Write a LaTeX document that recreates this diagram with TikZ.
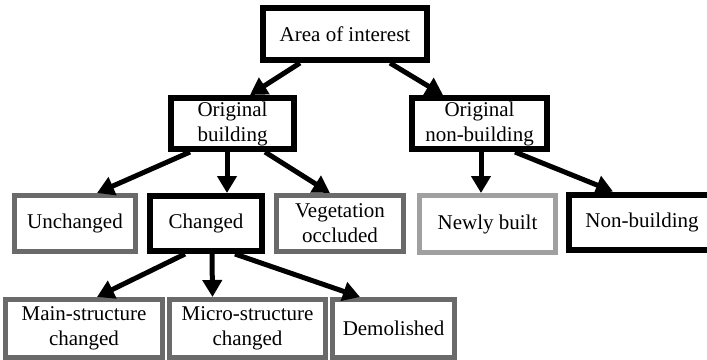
\documentclass[tikz,border=0pt]{standalone}
\usepackage{fontspec}
\setmainfont{Liberation Serif}
\usetikzlibrary{arrows.meta}
\definecolor{midgray}{HTML}{6A6A6A}
\definecolor{lightgray}{HTML}{A0A0A0}
\begin{document}
\begin{tikzpicture}[x=1pt,y=-1pt,
  box/.style={draw, rectangle, inner sep=0pt, align=center, fill=white,
    font=\fontsize{21}{25}\selectfont},
  strong/.style={box, line width=6pt, draw=black},
  soft/.style={box, line width=5pt, draw=midgray},
  faint/.style={box, line width=5pt, draw=lightgray},
  link/.style={line width=5pt, -{Triangle[length=17pt,width=19pt]}}]
\useasboundingbox (0,0) rectangle (707,359);
\begin{scope}
\clip (0,0) rectangle (707,359);
% top level
\node[strong, minimum width=164pt, minimum height=52pt] (area) at (345,34) {Area of interest};
% second level
\node[strong, minimum width=123pt, minimum height=51pt] (ob) at (232.5,123.5) {Original\\building};
\node[strong, minimum width=135pt, minimum height=51pt] (onb) at (479.5,123.5) {Original\\non-building};
% third level
\node[soft, minimum width=121pt, minimum height=56pt] (unch) at (75,223.5) {Unchanged};
\node[strong, minimum width=112pt, minimum height=55pt] (chg) at (206,223.5) {Changed};
\node[soft, minimum width=127pt, minimum height=56pt] (veg) at (340,223.5) {Vegetation\\occluded};
\node[faint, minimum width=136pt, minimum height=57pt] (nb) at (487.5,224) {Newly built};
\node[strong, minimum width=146pt, minimum height=55pt] (nonb) at (642,222) {Non-building};
% fourth level
\node[soft, minimum width=157pt, minimum height=58pt] (main) at (84,328.5) {Main-structure\\changed};
\node[soft, minimum width=156pt, minimum height=58pt] (micro) at (247.5,328.5) {Micro-structure\\changed};
\node[soft, minimum width=122pt, minimum height=58pt] (dem) at (393.5,328.5) {Demolished};
% connectors
\draw[link] ([xshift=-45pt]area.south) -- ([xshift=17.5pt]ob.north);
\draw[link] ([xshift=45pt]area.south) -- ([xshift=-36.5pt]onb.north);
\draw[link] ([xshift=-42.5pt]ob.south) -- ([xshift=22pt]unch.north);
\draw[link] ([xshift=-5.5pt]ob.south) -- ([xshift=21pt]chg.north);
\draw[link] ([xshift=32.5pt]ob.south) -- ([xshift=-10pt]veg.north);
\draw[link] ([xshift=1.5pt]onb.south) -- ([xshift=-6.5pt]nb.north);
\draw[link] ([xshift=35.5pt]onb.south) -- ([xshift=-29pt]nonb.north);
\draw[link] ([xshift=-21pt]chg.south) -- ([xshift=13pt]main.north);
\draw[link] ([xshift=6pt]chg.south) -- ([xshift=-35pt]micro.north);
\draw[link] ([xshift=29pt]chg.south) -- ([xshift=-33.5pt]dem.north);
\end{scope}
\end{tikzpicture}
\end{document}
